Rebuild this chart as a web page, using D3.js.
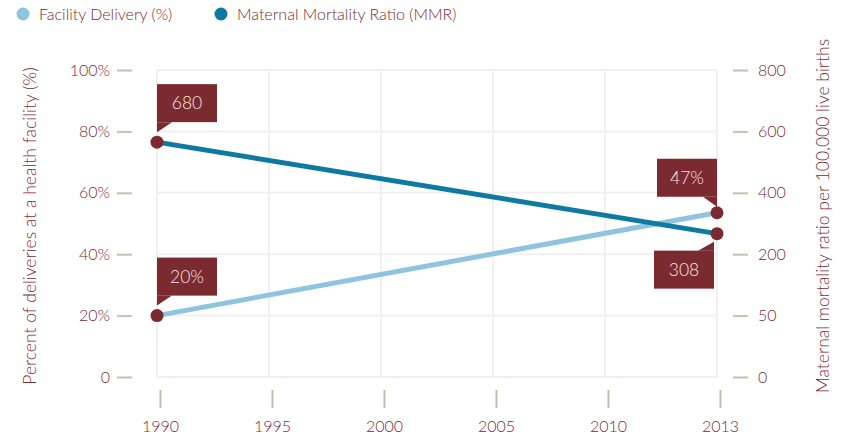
<!DOCTYPE html>
<meta charset="utf-8">
<script src="https://d3js.org/d3.v7.min.js"></script>
<style>
  body { margin: 0; background: #fff; }
  text { font-family: "Lato", "Open Sans", sans-serif; font-weight: 300; }
</style>
<div id="chart"></div>
<script>

// data
var years = ["1990", "1995", "2000", "2005", "2010", "2013"];
var leftTicks = [0, 20, 40, 60, 80, 100];
var rightTicks = [0, 50, 200, 400, 600, 800];

var facilityYears = ["1990", "2013"];
var facility = [20, 53.5];
var facilityLabels = ["20%", "47%"];
var mmrYears = ["1990", "2013"];
var mmr = [565, 267];
var mmrLabels = ["680", "308"];

var width = 846, height = 439;
var red = "#7b2a2f", txt = "#7a2a33", tickCol = "#c9bfac", grid = "#f0f0f0";

var svg = d3.select("#chart").append("svg")
  .attr("width", width)
  .attr("height", height);

var x = d3.scalePoint().domain(years).range([157, 717]);
var yL = d3.scaleLinear().domain([0, 100]).range([377, 70]);
// right axis is evenly spaced but not linear
var yR = d3.scaleLinear().domain(rightTicks).range(leftTicks.map(function(d) { return yL(d); }));

// grid
svg.append("g").selectAll("line.h")
  .data(leftTicks)
  .enter().append("line")
    .attr("x1", x.range()[0]).attr("x2", x.range()[1])
    .attr("y1", function(d) { return yL(d); })
    .attr("y2", function(d) { return yL(d); })
    .attr("stroke", grid).attr("stroke-width", 2);
svg.append("g").selectAll("line.v")
  .data(years)
  .enter().append("line")
    .attr("x1", function(d) { return x(d); })
    .attr("x2", function(d) { return x(d); })
    .attr("y1", yL(0)).attr("y2", yL(100))
    .attr("stroke", grid).attr("stroke-width", 2);

// axes
function styleAxis(g) {
  g.select(".domain").remove();
  g.selectAll(".tick line").attr("stroke", tickCol).attr("stroke-width", 2);
  g.selectAll(".tick text").attr("fill", txt).style("font-size", "16px");
}

svg.append("g")
  .attr("transform", "translate(132,0)")
  .call(d3.axisLeft(yL).tickValues(leftTicks).tickSize(15).tickPadding(7)
    .tickFormat(function(d) { return d === 0 ? "0" : d + "%"; }))
  .call(styleAxis);

svg.append("g")
  .attr("transform", "translate(733,0)")
  .call(d3.axisRight(yR).tickValues(rightTicks).tickSize(15).tickPadding(10))
  .call(styleAxis);

svg.append("g")
  .attr("transform", "translate(3,390)")
  .call(d3.axisBottom(x).tickSize(18).tickPadding(13))
  .call(styleAxis);

// axis titles
svg.append("text")
  .attr("transform", "translate(36,226) rotate(-90)")
  .attr("text-anchor", "middle")
  .attr("fill", txt)
  .style("font-size", "17.5px")
  .text("Percent of deliveries at a health facility (%)");

svg.append("text")
  .attr("transform", "translate(829,216) rotate(-90)")
  .attr("text-anchor", "middle")
  .attr("fill", txt)
  .style("font-size", "17.5px")
  .text("Maternal mortality ratio per 100,000 live births");

// lines
var fData = facilityYears.map(function(d, i) { return {year: d, value: facility[i], label: facilityLabels[i]}; });
var mData = mmrYears.map(function(d, i) { return {year: d, value: mmr[i], label: mmrLabels[i]}; });

svg.append("path")
  .datum(fData)
  .attr("fill", "none")
  .attr("stroke", "#8fc4de")
  .attr("stroke-width", 5)
  .attr("d", d3.line().x(function(d) { return x(d.year); }).y(function(d) { return yL(d.value); }));

svg.append("path")
  .datum(mData)
  .attr("fill", "none")
  .attr("stroke", "#0e7aa2")
  .attr("stroke-width", 5)
  .attr("d", d3.line().x(function(d) { return x(d.year); }).y(function(d) { return yR(d.value); }));

// callouts: pos = where the box sits relative to the point
function callout(px, py, label, pos) {
  var w = 60, h = 38, g = svg.append("g");
  var bx, by, tri;
  if (pos === "above-right") {
    bx = px; by = py - 10 - h - 10;
    tri = [[bx, by + h], [bx + 15, by + h], [px, py - 10]];
  } else if (pos === "above-left") {
    bx = px - w; by = py - 10 - h - 6;
    tri = [[px - 14, by + h], [px, by + h], [px, py - 6]];
  } else {
    bx = px - w - 3; by = py + 8 + 9;
    tri = [[px - 19, by], [px - 3, by], [px - 3, py + 8]];
  }
  g.append("polygon")
    .attr("points", tri.map(function(p) { return p.join(","); }).join(" "))
    .attr("fill", red);
  g.append("rect")
    .attr("x", bx).attr("y", by).attr("width", w).attr("height", h)
    .attr("fill", red);
  g.append("text")
    .attr("x", bx + w / 2).attr("y", by + h / 2 + 6)
    .attr("text-anchor", "middle")
    .attr("fill", "#f5e9e9")
    .style("font-size", "17.5px")
    .text(label);
}

callout(x(mData[0].year), yR(mData[0].value), mData[0].label, "above-right");
callout(x(fData[0].year), yL(fData[0].value), fData[0].label, "above-right");
callout(x(fData[1].year), yL(fData[1].value), fData[1].label, "above-left");
callout(x(mData[1].year), yR(mData[1].value), mData[1].label, "below-left");

// points
svg.append("g").selectAll("circle.f")
  .data(fData)
  .enter().append("circle")
    .attr("cx", function(d) { return x(d.year); })
    .attr("cy", function(d) { return yL(d.value); })
    .attr("r", 6.5)
    .attr("fill", red);
svg.append("g").selectAll("circle.m")
  .data(mData)
  .enter().append("circle")
    .attr("cx", function(d) { return x(d.year); })
    .attr("cy", function(d) { return yR(d.value); })
    .attr("r", 6.5)
    .attr("fill", red);

// legend
var legend = [
  {name: "Facility Delivery (%)", color: "#8fc4de", x: 23},
  {name: "Maternal Mortality Ratio (MMR)", color: "#0e7aa2", x: 221}
];
var lg = svg.append("g").selectAll("g")
  .data(legend)
  .enter().append("g")
    .attr("transform", function(d) { return "translate(" + d.x + ",14)"; });
lg.append("circle").attr("r", 6.5).attr("fill", function(d) { return d.color; });
lg.append("text")
  .attr("x", 16).attr("y", 5.5)
  .attr("fill", txt)
  .style("font-size", "16px")
  .text(function(d) { return d.name; });

</script>
